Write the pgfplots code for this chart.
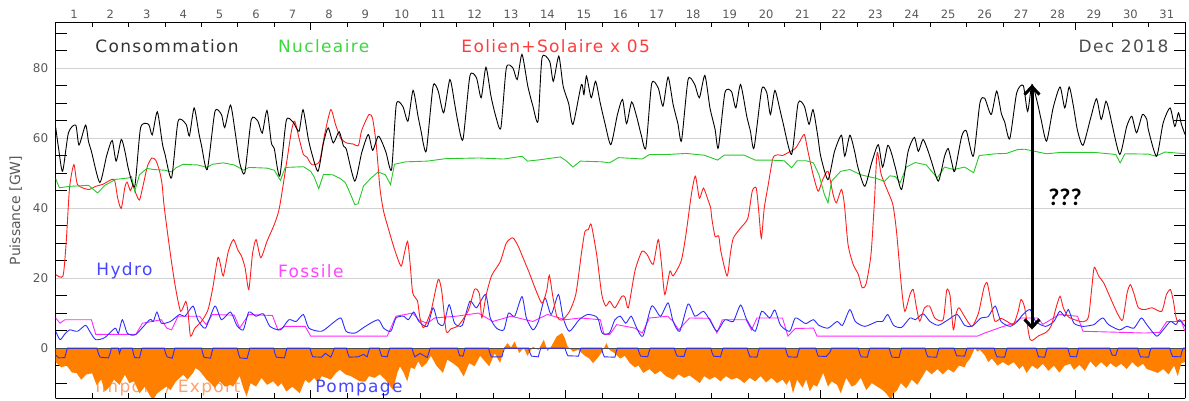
\documentclass[border=0pt]{standalone}
\usepackage{pgfplots}
\pgfplotsset{compat=1.18}
\usetikzlibrary{arrows.meta}
\usepackage{fontspec}
\setmainfont{DejaVu Sans}
\newfontfamily\lblfont{DejaVu Sans}[LetterSpace=8]
\newfontfamily\qfont{Carlito}
\definecolor{cNuc}{RGB}{40,200,40}
\definecolor{cRed}{RGB}{255,30,30}
\definecolor{cHyd}{RGB}{45,45,255}
\definecolor{cFos}{RGB}{255,40,255}
\definecolor{cOra}{RGB}{255,127,0}
\definecolor{tNuc}{RGB}{60,215,60}
\definecolor{tRed}{RGB}{255,60,60}
\definecolor{tHyd}{RGB}{70,70,255}
\definecolor{tFos}{RGB}{255,70,255}
\definecolor{tOra}{RGB}{255,160,110}
\begin{document}
\begin{tikzpicture}
\pgfplotsset{
  common/.style={at={(0,0)}, anchor=south west, scale only axis,
    width=1129.3pt, height=376pt, xmin=0, xmax=31,
    /pgf/number format/assume math mode=true,
    tick style={black, line width=0.7pt},
    axis line style={black, line width=0.9pt}},
}
% ---------------- main data axis
\begin{axis}[common,
  ymin=-14.4, ymax=93.0,
  hide x axis,
  ytick={0,20,40,60,80},
  minor ytick={-10,-5,5,10,15,25,30,35,45,50,55,65,70,75,85,90},
  major tick length=0pt, minor tick length=11pt,
  ymajorgrids, grid style={gray!35, line width=0.8pt},
  yticklabel style={font=\fontsize{12}{12}\selectfont, text=black!65, xshift=-4pt},
  ylabel={Puissance [GW]},
  ylabel style={at={(axis description cs:-0.0354,0.5)}, anchor=center,
     font=\fontsize{14}{14}\selectfont, text=black!65},
  clip=true,
]
% label under the fill
\node[anchor=west, text=tOra, font=\lblfont\fontsize{17}{17}\selectfont] at (axis cs:0.99,-11.3) {Import / Export};
% Import / Export (filled)
\addplot[draw=none, fill=cOra] coordinates {
(0,-4) (0.15,-5.5) (0.3,-5) (0.45,-7) (0.57,-7.1) (0.7,-9) (0.85,-7.5)
(1.0,-7.2) (1.12,-10.5) (1.25,-9) (1.35,-12.4) (1.48,-11) (1.6,-9) (1.75,-10.5) (1.9,-7.6)
(2.02,-10) (2.15,-9.5) (2.3,-12.9) (2.45,-11) (2.58,-13.5) (2.67,-14.8) (2.78,-13) (2.9,-12)
(3.04,-11) (3.15,-12) (3.3,-9.5) (3.5,-7.6) (3.62,-9) (3.77,-7.1) (3.84,-5.7) (3.95,-6.5)
(4.14,-9) (4.25,-10) (4.37,-11.4) (4.5,-9.5) (4.65,-11) (4.8,-10.5) (4.87,-11)
(5.05,-8) (5.15,-11.4) (5.24,-13.8) (5.35,-10) (5.5,-11) (5.65,-8.5) (5.8,-10.5) (5.97,-9.5)
(6.1,-11) (6.2,-10) (6.33,-12.4) (6.5,-11) (6.6,-12) (6.7,-12.9) (6.85,-9) (6.95,-10)
(7.1,-8.5) (7.2,-10) (7.3,-8) (7.43,-8.5) (7.55,-9) (7.7,-7) (7.8,-6.2) (7.95,-7.5)
(8.1,-8) (8.2,-8.6) (8.35,-9.5) (8.5,-9.6) (8.6,-8) (8.75,-8.5) (8.9,-7.5)
(9.05,-9) (9.15,-10.5) (9.26,-11.9) (9.38,-7) (9.45,-5.2) (9.55,-7) (9.65,-9.5) (9.75,-5.5) (9.85,-6) (9.95,-3.8)
(10.05,-5.5) (10.18,-4.3) (10.3,-2.2) (10.45,-5) (10.63,-7.1) (10.75,-3.3) (10.9,-4.3)
(11.05,-5.5) (11.2,-8.1) (11.35,-4.3) (11.5,-5.2) (11.65,-2.2) (11.8,-4) (11.9,-5.2)
(12.05,-1.5) (12.2,-4.3) (12.3,0) (12.4,1.4) (12.5,0.2) (12.6,1.9) (12.72,-1.4) (12.85,0) (12.95,-2.2)
(13.1,0.4) (13.25,-0.5) (13.4,2.4) (13.5,-0.9) (13.6,0.4) (13.75,3.3) (13.9,4.3) (13.97,3) (14.05,0.5)
(14.2,-1) (14.35,-0.5) (14.5,-2) (14.65,-3) (14.75,-4.3) (14.9,-2.5)
(15.0,-1) (15.12,1.4) (15.2,-0.5) (15.35,-1.5) (15.5,-3) (15.62,-2.2) (15.76,-4.3) (15.9,-5.5)
(16.0,-5) (16.13,-7.1) (16.3,-6) (16.45,-7.5) (16.6,-6.5) (16.75,-8) (16.95,-9)
(17.1,-7.5) (17.25,-8.5) (17.4,-7.8) (17.55,-9) (17.68,-10) (17.8,-8) (17.95,-9)
(18.1,-8.2) (18.25,-9.5) (18.4,-8) (18.55,-9) (18.7,-8.5) (18.78,-9) (18.9,-10)
(19.05,-8.5) (19.2,-9.5) (19.35,-8) (19.5,-9.8) (19.65,-8.5) (19.8,-10) (19.95,-9)
(20.06,-10.5) (20.15,-9) (20.24,-12.9) (20.35,-9) (20.5,-11.3) (20.6,-9) (20.7,-12.4) (20.8,-10.5) (20.9,-11)
(21.07,-7.1) (21.2,-11) (21.3,-9.5) (21.45,-10.5) (21.55,-12.9) (21.7,-8.5) (21.85,-11) (21.95,-10.5)
(22.1,-8.5) (22.25,-12) (22.4,-10) (22.55,-11) (22.7,-12) (22.8,-13) (22.93,-14.8) (23.0,-13)
(23.1,-12) (23.2,-10) (23.35,-11.5) (23.5,-9) (23.65,-10.5) (23.8,-8) (23.9,-6.2)
(24.05,-7.5) (24.2,-6) (24.35,-7.5) (24.5,-6) (24.65,-7) (24.8,-5) (24.95,-5.5)
(25.0,-4.3) (25.1,-3) (25.23,0) (25.3,-1) (25.37,-0.5) (25.5,-2) (25.6,-4) (25.7,-3) (25.85,-5)
(26.0,-4) (26.15,-5) (26.3,-4) (26.45,-6) (26.55,-5) (26.65,-7.1) (26.8,-5) (26.95,-6)
(27.1,-4.5) (27.25,-6.5) (27.4,-5) (27.55,-7) (27.7,-5) (27.85,-4.5) (27.95,-6.2)
(28.1,-4.8) (28.25,-6.5) (28.4,-3.8) (28.55,-5.5) (28.7,-4) (28.85,-5.5) (28.95,-4.3)
(29.1,-5.5) (29.25,-4.5) (29.4,-6) (29.55,-4) (29.7,-5.5) (29.85,-4.5) (29.95,-6)
(30.1,-6.5) (30.25,-7.1) (30.4,-6) (30.55,-7.5) (30.7,-5) (30.8,-8) (30.9,-4.3) (31,-4)
} \closedcycle;
% zero line
\draw[black!70, line width=0.8pt] (axis cs:0,0) -- (axis cs:31,0);
% Pompage
\addplot[cHyd, line width=0.9pt] coordinates {
(0,-2) (0.08,-2.8) (0.25,-2.7) (0.32,0) (1.13,0) (1.18,-1.8) (1.22,-2.6) (1.45,-2.8) (1.49,-1.6) (1.53,0) (1.72,0) (1.75,-1.5) (1.8,0)
(2.1,0) (2.14,-1.8) (2.17,-2.7) (2.3,-2.8) (2.33,-1.5) (2.37,0) (2.98,0) (3.02,-1.6) (3.06,-2.5) (3.2,-2.9) (3.23,-1.6) (3.27,0)
(4.0,0) (4.04,-1.6) (4.07,-2.6) (4.25,-2.9) (4.28,-1.5) (4.32,0) (4.98,0) (5.02,-1.7) (5.06,-2.8) (5.25,-3) (5.29,-1.6) (5.33,0)
(5.98,0) (6.02,-1.6) (6.06,-2.6) (6.28,-2.8) (6.31,-1.5) (6.35,0) (6.98,0) (7.02,-1.6) (7.06,-2.5) (7.3,-2.6) (7.4,-1.5) (7.55,-2.6) (7.6,-1.4) (7.65,0)
(7.98,0) (8.02,-1.6) (8.06,-2.6) (8.3,-2.5) (8.45,-1.8) (8.55,-2.5) (8.58,-1.3) (8.62,0) (8.88,0) (8.92,-1.5) (8.95,-2.3) (9.1,-2.5) (9.13,-1.3) (9.17,0)
(9.78,0) (9.82,-1.5) (9.86,-2.5) (10.0,-1.5) (10.2,-2.7) (10.24,-1.4) (10.28,0) (11.03,0) (11.06,-1.3) (11.09,-2.2) (11.18,-2.3) (11.21,-1.1) (11.24,0)
(11.88,0) (11.92,-1.5) (11.96,-2.5) (12.25,-2.5) (12.28,-1.3) (12.32,0) (12.98,0) (13.02,-1.4) (13.06,-2.3) (13.25,-2.5) (13.28,-1.2) (13.32,0)
(13.98,0) (14.02,-1.3) (14.06,-2.2) (14.35,-2.3) (14.38,-1.2) (14.42,0) (14.98,0) (15.02,-1.5) (15.06,-2.5) (15.35,-2.6) (15.38,-1.3) (15.42,0)
(15.98,0) (16.02,-1.4) (16.06,-2.3) (16.25,-2.5) (16.28,-1.3) (16.32,0) (16.98,0) (17.02,-1.4) (17.06,-2.3) (17.25,-2.4) (17.28,-1.2) (17.32,0)
(17.98,0) (18.02,-1.4) (18.06,-2.3) (18.25,-2.5) (18.28,-1.3) (18.32,0) (18.98,0) (19.02,-1.5) (19.06,-2.5) (19.25,-2.6) (19.28,-1.3) (19.32,0)
(20.03,0) (20.07,-1.5) (20.11,-2.5) (20.35,-2.6) (20.38,-1.3) (20.42,0) (20.86,0) (20.9,-1.4) (20.93,-2.3) (21.15,-2.4) (21.25,-1.2) (21.3,0)
(22.03,0) (22.07,-1.5) (22.11,-2.5) (22.28,-2.6) (22.31,-1.3) (22.35,0) (22.88,0) (22.92,-1.6) (22.96,-2.6) (23.15,-2.7) (23.18,-1.4) (23.22,0)
(23.86,0) (23.9,-1.5) (23.94,-2.5) (24.18,-2.6) (24.21,-1.3) (24.25,0) (24.66,0) (24.7,-1.3) (24.73,-2.2) (24.95,-2.3) (24.98,-1.2) (25.02,0)
(25.76,0) (25.8,-1.5) (25.84,-2.5) (26.05,-2.6) (26.08,-1.3) (26.12,0) (26.91,0) (26.95,-1.5) (26.98,-2.5) (27.15,-2.6) (27.18,-1.3) (27.22,0)
(27.78,0) (27.82,-1.4) (27.85,-2.4) (28.02,-2.5) (28.05,-1.2) (28.08,0) (28.93,0) (28.97,-1.2) (29.0,-2.0) (29.1,-2.1) (29.13,-1) (29.17,0)
(29.7,0) (29.74,-1.5) (29.78,-2.5) (30.0,-2.6) (30.03,-1.3) (30.07,0) (30.58,0) (30.62,-1.4) (30.66,-2.4) (30.88,-2.5) (30.91,-1.2) (30.95,0) (31,0)
};
% Fossile
\addplot[cFos, line width=0.9pt] coordinates {
(0,8.6) (0.12,7.1) (0.25,8.1) (0.98,8.1) (1.1,3.9) (2.2,3.9) (2.38,7.1) (2.9,8.1) (3.05,5.7) (3.18,5.2)
(3.36,9.1) (3.95,9.1) (4.13,6.7) (4.3,9.6) (4.9,9.4) (5.05,5.7) (5.3,9.6) (5.95,9.3) (6.1,5.2) (6.3,6.2)
(6.85,6.2) (7.0,3.4) (9.1,3.4) (9.34,9.1) (9.8,10) (9.97,8) (10.2,7.1) (10.4,8.6) (11.0,9.1) (11.6,10)
(12.0,7.6) (12.5,9.1) (13.1,7.6) (13.5,9.6) (14.0,8.1) (14.4,8.6) (14.95,8.1) (15.05,3.9) (15.21,3.9)
(15.4,6.7) (15.9,5.7) (16.1,4.3) (16.3,8.6) (16.8,9.1) (16.95,7.6) (17.1,5.2) (17.4,8.6) (17.95,8.5)
(18.15,4.3) (18.3,8.1) (18.95,8.1) (19.1,5.2) (19.25,8.6) (19.95,8.6) (20.1,3.4) (20.3,5.6) (20.8,5.7)
(20.9,3.4) (25.3,3.4) (25.5,4.3) (25.93,5.9) (26.3,7.1) (26.5,8.6) (26.95,8.6) (27.1,6.8) (27.55,9.6)
(28.05,9.1) (28.2,4.8) (29.9,4.3) (30.3,4.5) (30.5,7.6) (30.9,7.6) (31,4.8)
};
% Hydro
\addplot[cHyd, line width=0.9pt, smooth, tension=0.4] coordinates {
(0,4.8) (0.12,2.4) (0.25,4) (0.38,5.2) (0.6,4.8) (0.82,6.5) (0.95,4.5) (1.1,2.4) (1.35,3) (1.63,5.7)
(1.72,4.2) (1.83,8.1) (1.97,4.2) (2.2,3.9) (2.58,8.1) (2.68,7.6) (2.78,10.3) (2.9,7.1) (3.15,7.6)
(3.4,9.6) (3.55,9.1) (3.77,12) (3.9,8.1) (4.11,5.7) (4.37,12) (4.55,8.1) (4.8,10.3) (4.97,6.5)
(5.15,5.2) (5.3,10.3) (5.5,9.1) (5.7,9.8) (5.88,6.2) (6.17,5.2) (6.4,8.1) (6.6,7.6) (6.8,9.6) (6.95,5.7)
(7.3,4.8) (7.6,7.1) (7.83,8.6) (7.97,4.8) (8.22,4.3) (8.5,6.2) (8.85,8.1) (9.0,5.7) (9.2,4.8) (9.34,8.6)
(9.55,9.1) (9.68,8.1) (9.83,10.3) (9.97,7.6) (10.2,6.2) (10.36,11.5) (10.5,7.1) (10.65,6.7) (10.8,12.4)
(10.95,7.1) (11.16,6.5) (11.37,13.4) (11.55,11.5) (11.8,15.3) (11.93,8.6) (12.1,5.7) (12.3,5.2)
(12.43,10) (12.6,9.1) (12.8,14.7) (12.92,8.6) (13.1,5.2) (13.25,7.6) (13.43,14.3) (13.6,9.6) (13.8,15.3)
(13.93,8.6) (14.1,4.8) (14.37,8.1) (14.6,9.6) (14.82,9.1) (14.9,8.1) (15.0,4.3) (15.2,4.3) (15.35,8.1)
(15.5,9.1) (15.65,7.1) (15.8,9.1) (15.95,5.7) (16.12,3.4) (16.36,12) (16.6,9.1) (16.81,12.9) (16.95,7.6)
(17.13,4.8) (17.36,12.6) (17.55,9.1) (17.78,10.5) (17.95,8.1) (18.15,4.8) (18.37,8.1) (18.6,7.6)
(18.8,12.3) (18.97,8.1) (19.2,4.8) (19.38,10.5) (19.6,8.6) (19.74,10.9) (19.9,6.5) (20.15,4.8)
(20.3,8.6) (20.5,7.5) (20.6,7) (20.8,8.1) (20.95,6.5) (21.2,5.7) (21.45,7.6) (21.6,6.5) (21.8,11)
(21.95,7.6) (22.21,6.2) (22.55,7.6) (22.7,7.6) (22.84,9.6) (23.0,6.5) (23.22,5.9) (23.45,8.6) (23.6,8.1)
(23.81,9.8) (24.0,7.6) (24.23,6.5) (24.5,8.1) (24.75,9.6) (24.95,6.5) (25.15,6.2) (25.4,8.6) (25.6,9)
(25.79,12) (25.95,7.6) (26.2,6.2) (26.4,7.6) (26.55,9.6) (26.75,11) (26.9,7.6) (27.17,6.2) (27.4,7.6)
(27.56,10.5) (27.7,9.1) (27.8,11) (27.95,7.1) (28.2,6.2) (28.5,6.7) (28.6,7.6) (28.75,8.6) (28.9,6.7)
(29.2,5.2) (29.4,6.2) (29.6,5.7) (29.8,8.6) (29.95,6.7) (30.22,3.4) (30.4,5.2) (30.6,7.6) (30.75,6.7)
(30.85,8.1) (31,6.2)
};
% Eolien + Solaire x 5
\addplot[cRed, line width=0.9pt, smooth, tension=0.4] coordinates {
(0,21) (0.2,20.6) (0.29,30.5) (0.38,45.8) (0.5,52.4) (0.6,46.7) (0.9,45.3) (1.1,46.2) (1.3,46.8) (1.6,48.2)
(1.7,42.9) (1.8,39.9) (1.9,46) (1.96,47.4) (2.05,45) (2.12,46.5) (2.2,44.2) (2.3,42.3) (2.4,46.5) (2.52,52)
(2.64,54.3) (2.75,53.6) (2.85,50.6) (2.92,46.8) (2.98,40.2) (3.15,26.7) (3.29,17.2) (3.43,10.5) (3.57,13.3)
(3.63,10.5) (3.7,3.4) (3.82,5.7) (4.0,7.6) (4.18,10.9) (4.31,17.1) (4.45,25.8) (4.52,24) (4.6,20.6)
(4.74,27.7) (4.88,31) (5.0,28) (5.1,26.3) (5.2,22.9) (5.3,16.7) (5.4,26.7) (5.5,31) (5.63,25.8) (5.8,30.5)
(6.0,35.3) (6.14,40) (6.33,52.4) (6.47,61.9) (6.56,64.8) (6.7,59.1) (6.8,55.3) (6.9,54.5) (7.03,52.4)
(7.24,53.3) (7.38,60.9) (7.55,68.1) (7.68,63.9) (7.82,60) (7.98,58.6) (8.16,58.3) (8.31,57.9) (8.4,62.2)
(8.6,66.7) (8.7,65.5) (8.8,58.1) (8.9,45.8) (9.0,39.1) (9.18,32.4) (9.32,27.6) (9.48,23.4) (9.57,27)
(9.66,30.5) (9.73,24) (9.8,15.8) (9.93,13.5) (10.0,8.6) (10.1,5.8) (10.3,10.5) (10.5,19.6) (10.6,16)
(10.72,4.8) (10.85,5.5) (11.06,6.5) (11.33,10.8) (11.5,16.8) (11.63,15.5) (11.7,8.7) (11.82,15.3)
(11.97,20.8) (12.2,24.6) (12.37,30) (12.55,31.5) (12.7,29) (12.84,25.5) (13.0,21.5) (13.16,17.1)
(13.35,12.8) (13.48,16.5) (13.55,20.8) (13.65,14.5) (13.76,8.9) (13.9,8) (14.1,10.4) (14.28,15.5)
(14.44,27.7) (14.53,33.4) (14.62,33.8) (14.7,35.3) (14.85,26.7) (14.99,15.3) (15.1,12) (15.21,13.4)
(15.35,11.5) (15.54,14.8) (15.63,14.5) (15.72,11.5) (15.9,22) (16.09,27.6) (16.23,26.8) (16.4,23.9)
(16.54,31) (16.63,24) (16.72,15.3) (16.86,22) (16.95,20.6) (17.17,24.9) (17.3,32.4) (17.45,43.9)
(17.56,49.1) (17.67,42.8) (17.78,45.7) (17.9,42.5) (17.98,40) (18.01,37.1) (18.1,31.9) (18.2,32)
(18.26,27.6) (18.43,20.6) (18.52,27) (18.6,31.4) (18.8,34.3) (19.0,37.1) (19.12,44.8) (19.23,45.7)
(19.3,39) (19.37,31.4) (19.45,40) (19.56,46.7) (19.69,54.3) (19.82,55.2) (19.95,55) (20.1,55.8)
(20.3,57) (20.43,59.1) (20.55,61) (20.65,56.2) (20.79,49.6) (20.93,44.8) (21.05,48) (21.2,50.5)
(21.34,43.9) (21.43,41.5) (21.57,45.3) (21.65,41) (21.75,29.6) (21.89,23.9) (22.03,21.1) (22.14,17.2)
(22.25,18.5) (22.38,26.7) (22.47,41) (22.55,55.8) (22.66,49.6) (22.84,44.8) (22.98,41) (23.08,33.4)
(23.22,17.1) (23.31,10.5) (23.45,15.3) (23.54,16.7) (23.63,11.5) (23.72,7.7) (23.85,11.5) (23.99,12)
(24.13,8.6) (24.36,8.1) (24.46,16.6) (24.55,15) (24.64,5.2) (24.72,10) (24.8,11.5) (24.95,9) (25.15,6.2)
(25.33,10) (25.48,17.2) (25.57,18.6) (25.68,12.8) (25.78,7.7) (25.95,8.5) (26.1,7.7) (26.29,6.8)
(26.42,10.5) (26.5,13.9) (26.6,11.5) (26.75,2.4) (26.98,3.5) (27.2,4.6) (27.33,6.4) (27.46,11.5)
(27.57,14.8) (27.66,11.5) (27.8,8.9) (28.03,7.9) (28.2,7.5) (28.35,8.9) (28.45,18.1) (28.51,23.1)
(28.63,20.6) (28.77,18.6) (28.97,13.9) (29.15,9.8) (29.29,8) (29.41,15.7) (29.5,18.1) (29.6,15.5)
(29.72,11.5) (29.9,11) (30.1,11.5) (30.36,10.5) (30.49,15.3) (30.6,16.7) (30.68,13.5) (30.78,7.9) (31,7.9)
};
% Nucleaire
\addplot[cNuc, line width=0.9pt] coordinates {
(0,48.4) (0.1,45.8) (0.4,46.2) (0.9,46.5) (1.15,44.3) (1.35,46.5) (1.65,48.2) (2.0,48.6) (2.08,49)
(2.17,44.8) (2.3,49.5) (2.5,51.3) (2.7,51) (3.0,50.8) (3.18,50.3) (3.3,51.5) (3.5,52.5) (3.9,52.3)
(4.16,51.6) (4.3,52.5) (4.6,52.9) (4.9,52.3) (5.16,50.8) (5.3,51.6) (5.8,51.4) (6.0,50.8) (6.17,47.9)
(6.3,51.6) (6.8,51.8) (7.0,50.5) (7.1,48.8) (7.22,45.5) (7.35,49.6) (7.6,49.5) (7.8,48.5) (7.95,47.3)
(8.05,45) (8.21,41) (8.3,41.2) (8.45,46.3) (8.65,48.5) (8.85,50.3) (9.05,49.5) (9.19,46.7) (9.3,52.5)
(9.6,53.2) (10.2,53.4) (10.7,54.1) (11.6,54.3) (12.3,54) (12.8,54.8) (12.95,53.4) (13.3,53.8)
(13.85,54.6) (14.0,53.6) (14.2,51.7) (14.4,53.4) (15.0,53.2) (15.2,52.9) (15.45,54.4) (15.8,54.2)
(16.1,54) (16.3,55.3) (16.8,55.3) (17.3,55.6) (17.8,55.1) (18.17,53.7) (18.35,55.1) (18.9,55.1)
(19.2,53.7) (19.6,53.7) (20.0,53.5) (20.2,51.5) (20.35,53.5) (20.6,53.5) (20.8,52.9) (20.95,49.6)
(21.1,43.9) (21.2,41.5) (21.3,47.7) (21.55,50.5) (21.8,51) (22.1,49.5) (22.55,48.4) (22.75,47.6)
(22.9,49.2) (23.05,49) (23.18,47.2) (23.35,51.7) (23.6,53) (23.9,52.3) (24.2,48.6) (24.4,51.7)
(24.65,51) (24.95,51.7) (25.2,50.1) (25.35,55) (25.8,55.5) (26.1,55.6) (26.4,56.7) (26.6,56.8)
(27.2,55.5) (27.6,55.9) (28.5,55.9) (29.1,55.3) (29.22,52.9) (29.35,55.5) (30.0,55.4) (30.2,54.8)
(30.45,56) (31,55.5)
};
% Consommation
\addplot[black, line width=0.9pt, smooth, tension=0.4] coordinates {
(0,63) (0.08,57) (0.19,50.5) (0.35,61.5) (0.55,63.7) (0.64,58) (0.82,63.7) (0.9,59) (0.98,56.2)
(1.21,47.3) (1.4,55) (1.55,59.3) (1.66,53.4) (1.8,59.6) (1.9,56.2) (2.0,51)
(2.17,46.2) (2.33,62.9) (2.55,63.9) (2.65,60.9) (2.79,67.5) (2.93,58.3) (3.0,55.4)
(3.18,48.6) (3.36,64.8) (3.58,63.9) (3.67,60.6) (3.8,68.6) (3.93,61.4) (4.0,58)
(4.16,51) (4.37,67.5) (4.55,66.7) (4.64,63) (4.8,69.4) (4.93,61.4) (5.05,53)
(5.19,50) (5.37,65.3) (5.55,64.8) (5.67,61.4) (5.8,67.9) (5.92,58.6) (6.0,57)
(6.15,49.1) (6.33,65) (6.52,64.5) (6.68,61.9) (6.79,68.1) (6.93,60) (7.02,56)
(7.2,50.5) (7.35,58.6) (7.48,62.9) (7.62,58.6) (7.78,61.8) (7.9,57.7) (7.98,56.7)
(8.21,47.7) (8.4,55.8) (8.58,61) (8.7,56.5) (8.85,60.5) (8.95,59) (9.07,55.8)
(9.22,51) (9.35,69.6) (9.53,69) (9.67,64.8) (9.81,73.6) (9.95,66) (10.04,61.4) (10.1,58)
(10.18,56.7) (10.36,74.8) (10.5,73.4) (10.65,67.2) (10.82,76.7) (10.95,69.9) (11.04,64.6)
(11.18,59.6) (11.37,77.7) (11.55,77.2) (11.68,71.5) (11.81,80.2) (11.95,71.9) (12.08,66.2)
(12.22,62.9) (12.37,80) (12.55,80) (12.67,76.7) (12.8,83.9) (12.96,74.8) (13.1,69.1)
(13.24,64.8) (13.35,82.9) (13.56,81.9) (13.66,76.2) (13.81,83.4) (13.93,74.8) (14.08,69.9)
(14.2,63.9) (14.43,75.3) (14.5,72.4) (14.57,77.7) (14.7,71.5) (14.82,76.2) (14.95,69.9) (15.08,64.1)
(15.24,58.1) (15.42,66.7) (15.56,71) (15.67,64.1) (15.81,70.3) (15.95,66) (16.07,61)
(16.2,57.2) (16.36,75.5) (16.54,74.3) (16.67,69.1) (16.81,77.4) (16.95,69.5) (17.08,64.1)
(17.18,59.3) (17.36,76.7) (17.54,75.3) (17.67,71.5) (17.82,77.9) (17.96,68.6) (18.1,62.5)
(18.19,57.2) (18.37,72.9) (18.55,73.3) (18.67,68.6) (18.8,75.3) (18.97,66.2) (19.07,62)
(19.17,57.2) (19.38,73.9) (19.52,72.9) (19.62,66.7) (19.74,73.6) (19.87,68.6) (19.96,64.6)
(20.2,55.3) (20.38,70) (20.55,69.1) (20.68,63.9) (20.79,68.1) (20.92,60.5) (21.0,54.8)
(21.2,48.1) (21.38,56.2) (21.57,60.8) (21.66,54.8) (21.8,60.8) (21.93,56.2) (22.02,51.7)
(22.21,46.2) (22.4,53) (22.58,58.1) (22.7,51.7) (22.84,57.9) (22.95,55.4) (23.05,51.5)
(23.22,45.3) (23.4,56.2) (23.57,60.2) (23.68,56.2) (23.81,59.6) (23.95,56.2) (24.05,53)
(24.23,47.7) (24.4,54.8) (24.5,57) (24.6,52.9) (24.68,50.5) (24.87,60.5) (25.0,62) (25.19,54.8)
(25.37,70) (25.5,71.4) (25.68,66.7) (25.83,73.4) (25.96,66.9) (26.05,64.6)
(26.19,59.8) (26.38,72.9) (26.56,75) (26.68,67.6) (26.8,75.3) (26.95,70) (27.05,65.3)
(27.2,59.1) (27.38,68.6) (27.57,74.6) (27.7,68.6) (27.82,74.6) (27.93,69.5) (28.05,62.1)
(28.2,57.9) (28.4,65.3) (28.57,71.2) (28.7,65.3) (28.83,70.5) (28.93,67.2) (29.0,63.8)
(29.21,55.3) (29.4,63.3) (29.54,66.2) (29.67,61.5) (29.83,66.7) (29.95,65.3) (30.0,62.1)
(30.22,54.8) (30.4,64.3) (30.59,68.6) (30.72,63.3) (30.82,67.2) (30.9,64) (31.0,61)
};
% text labels
\node[anchor=west, text=black!80, font=\lblfont\fontsize{17}{17}\selectfont] at (axis cs:0.99,86.1) {Consommation};
\node[anchor=west, text=tNuc, font=\lblfont\fontsize{17}{17}\selectfont] at (axis cs:6.01,86.1) {Nucleaire};
\node[anchor=west, text=tRed, font=\lblfont\fontsize{17}{17}\selectfont] at (axis cs:11.04,86.1) {Eolien+Solaire x 05};
\node[anchor=east, text=black!70, font=\lblfont\fontsize{17}{17}\selectfont] at (axis cs:30.64,86.1) {Dec 2018};
\node[anchor=west, text=tHyd, font=\lblfont\fontsize{17}{17}\selectfont] at (axis cs:1.02,22.1) {Hydro};
\node[anchor=west, text=tFos, font=\lblfont\fontsize{17}{17}\selectfont] at (axis cs:6.01,22.1) {Fossile};
\node[anchor=west, text=tHyd, font=\lblfont\fontsize{17}{17}\selectfont] at (axis cs:7.03,-11.3) {Pompage};
\node[anchor=west, text=black, font=\qfont\bfseries\fontsize{24}{24}\selectfont] at (axis cs:27.15,43) {???};
\draw[black, line width=3pt, {Straight Barb[length=8pt,width=15pt]}-{Straight Barb[length=8pt,width=15pt]}]
  (axis cs:26.8,5.3) -- (axis cs:26.8,75.3);
\end{axis}
% ---------------- x ticks (top and bottom)
\begin{axis}[common, ymin=0, ymax=1, hide y axis,
  xtick={7,14,21,28}, xticklabels={},
  minor xtick={1,...,30},
  major tick length=8pt, minor tick length=5pt]
\end{axis}
% ---------------- day labels on top
\begin{axis}[common, ymin=0, ymax=1, hide y axis,
  axis line style={draw=none},
  xtick={0.5,1.5,...,30.5},
  xticklabels={1,2,3,4,5,6,7,8,9,10,11,12,13,14,15,16,17,18,19,20,21,22,23,24,25,26,27,28,29,30,31},
  xticklabel pos=upper, major tick length=0pt,
  xticklabel style={font=\fontsize{11.5}{11.5}\selectfont, text=black!65, yshift=0pt}]
\end{axis}
\pgfresetboundingbox
\path[use as bounding box] (-55.7pt,-2.5pt) rectangle (1133.3pt,398.5pt);
\end{tikzpicture}
\end{document}
